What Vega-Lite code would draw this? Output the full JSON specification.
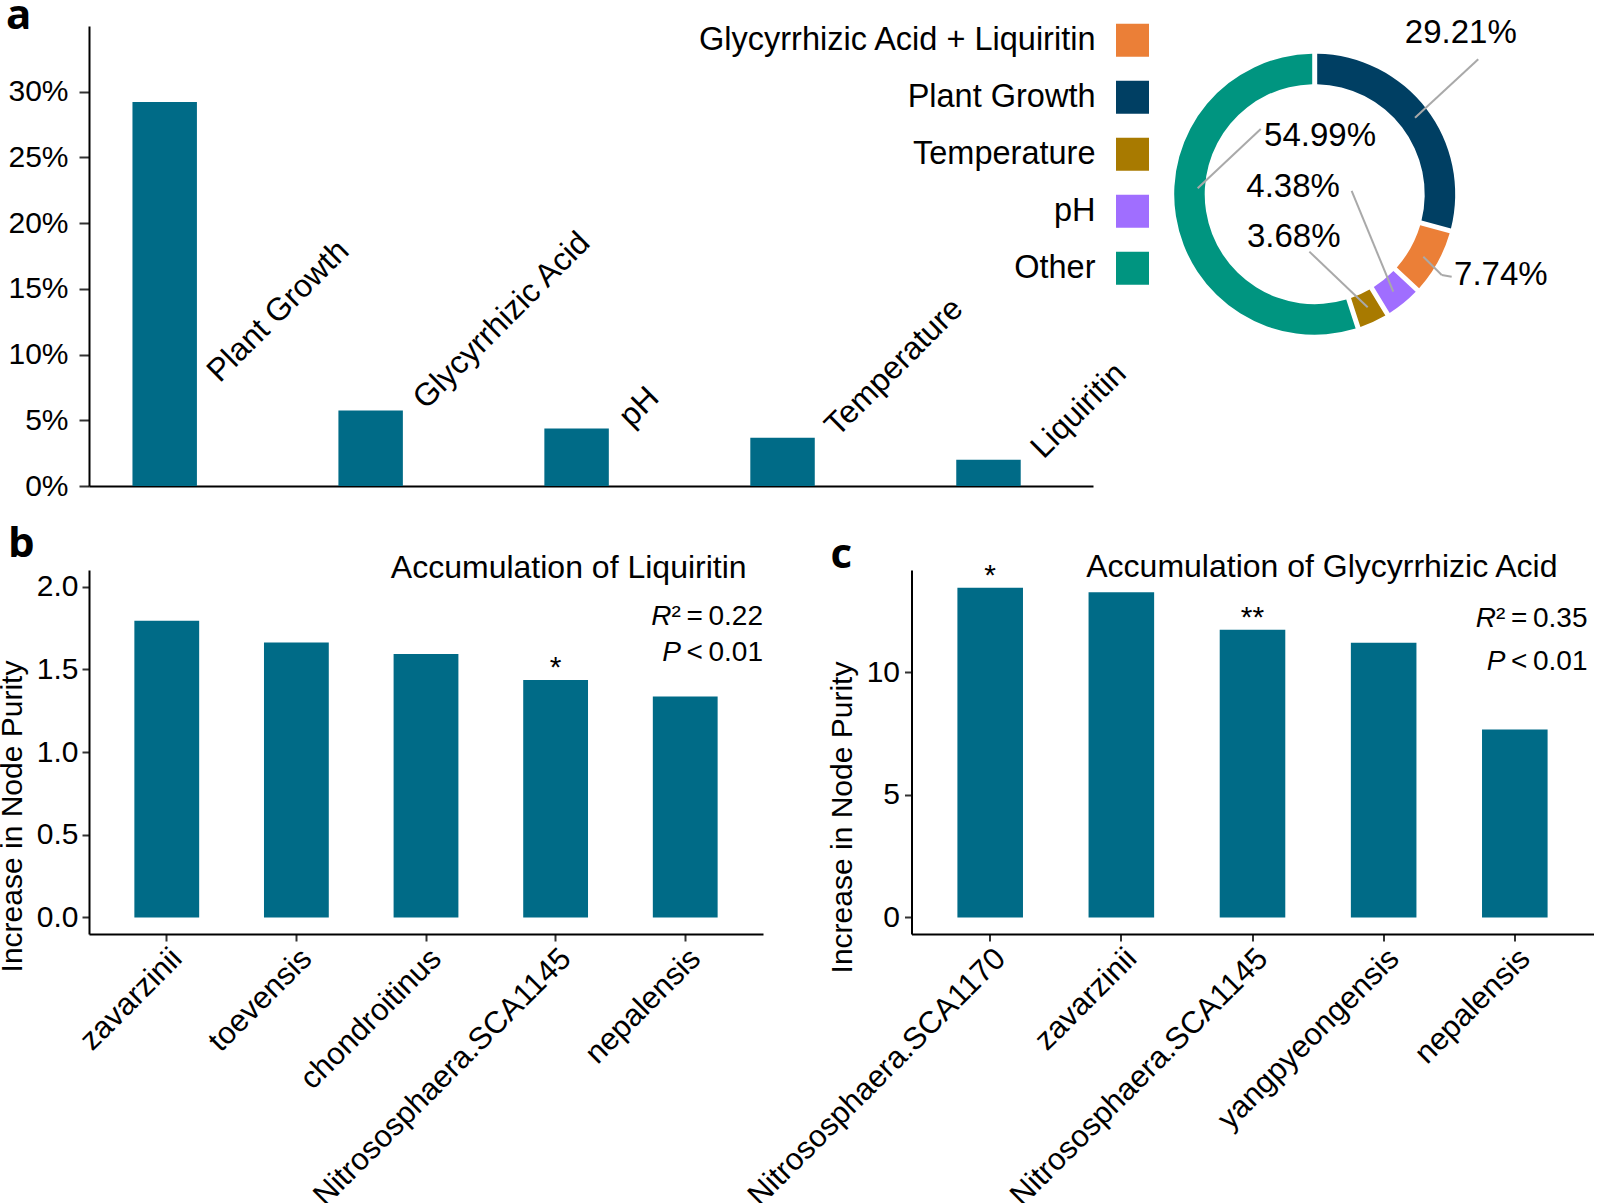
{
  "$schema": "https://vega.github.io/schema/vega-lite/v6.json",
  "autosize": {"type": "none"},
  "padding": {"left": 89, "top": 26, "right": 1511, "bottom": 1177},
  "background": "white",
  "config": {
    "font": "Liberation Sans",
    "view": {"stroke": null},
    "axis": {
      "domainColor": "black", "domainWidth": 2, "tickColor": "#333333", "tickWidth": 2,
      "labelFont": "Liberation Sans", "labelFontSize": 30, "labelColor": "black",
      "titleFont": "Liberation Sans", "titleFontSize": 30, "titleFontWeight": "normal", "titleColor": "black",
      "grid": false
    },
    "title": {"font": "Open Sans", "fontSize": 42, "fontWeight": "bold", "color": "black", "anchor": "start", "frame": "group", "baseline": "alphabetic"}
  },
  "bounds": "flush",
  "spacing": 84,
  "vconcat": [
    {
      "width": 1004,
      "height": 460,
      "title": {"text": "a", "dx": -83, "offset": -21},
      "resolve": {"scale": {"x": "independent", "y": "independent"}},
      "layer": [
        {
          "data": {"values": [
            {"factor": "Plant Growth", "value": 0.2921},
            {"factor": "Glycyrrhizic Acid", "value": 0.0574},
            {"factor": "pH", "value": 0.0438},
            {"factor": "Temperature", "value": 0.0368},
            {"factor": "Liquiritin", "value": 0.0200}
          ]},
          "encoding": {
            "x": {"field": "factor", "type": "nominal", "sort": null,
                  "scale": {"paddingInner": 0.687, "paddingOuter": 0.281, "align": 0.3755},
                  "axis": {"labels": false, "ticks": false, "title": null}}
          },
          "layer": [
            {
              "mark": {"type": "bar", "color": "#006B87"},
              "encoding": {
                "y": {"field": "value", "type": "quantitative",
                      "scale": {"domain": [0, 0.35], "nice": false, "zero": true},
                      "axis": {"title": null, "format": ".0%", "values": [0, 0.05, 0.1, 0.15, 0.2, 0.25, 0.3], "tickSize": 10, "labelPadding": 11}}
              }
            },
            {
              "transform": [{"calculate": "datum.value > 0.1 ? 0.078 : datum.value", "as": "label_y"}],
              "mark": {"type": "text", "angle": 315, "align": "left", "baseline": "alphabetic", "fontSize": 32, "xOffset": 55, "color": "black"},
              "encoding": {
                "y": {"field": "label_y", "type": "quantitative"},
                "text": {"field": "factor"}
              }
            }
          ]
        },
        {
          "layer": [
            {
              "data": {"values": [
                {"category": "Plant Growth", "pct": 29.21},
                {"category": "Glycyrrhizic Acid + Liquiritin", "pct": 7.74},
                {"category": "pH", "pct": 4.38},
                {"category": "Temperature", "pct": 3.68},
                {"category": "Other", "pct": 54.99}
              ]},
              "transform": [{"window": [{"op": "row_number", "as": "idx"}]}],
              "mark": {"type": "arc", "innerRadius": 110, "outerRadius": 140.5, "padAngle": 0.028},
              "encoding": {
                "x": {"datum": 0, "type": "quantitative", "scale": {"domain": [-8.724, -1.578], "nice": false, "zero": false}, "axis": null},
                "y": {"datum": 0, "type": "quantitative", "scale": {"domain": [-2.077, 1.197], "nice": false, "zero": false}, "axis": null},
                "theta": {"field": "pct", "type": "quantitative", "stack": true},
                "order": {"field": "idx", "type": "quantitative"},
                "color": {
                  "field": "category", "type": "nominal",
                  "scale": {
                    "domain": ["Glycyrrhizic Acid + Liquiritin", "Plant Growth", "Temperature", "pH", "Other"],
                    "range": ["#EB7F37", "#003F63", "#A87A00", "#A06EFF", "#009580"]
                  },
                  "legend": {
                    "orient": "none", "legendX": 1027, "legendY": -2.3, "title": null,
                    "symbolType": "square", "symbolSize": 1089, "symbolStrokeWidth": 0, "symbolOpacity": 1,
                    "labelFontSize": 32.5, "labelFont": "Liberation Sans", "labelColor": "black",
                    "labelAlign": "right", "labelOffset": -53.5, "labelLimit": 600,
                    "rowPadding": 24, "padding": 0
                  }
                }
              }
            },
            {
              "data": {"values": [
                {"x1": 1.164, "y1": 0.960, "x2": 0.714, "y2": 0.544},
                {"x1": -0.384, "y1": 0.464, "x2": -0.833, "y2": 0.042},
                {"x1": 0.263, "y1": 0.023, "x2": 0.559, "y2": -0.694},
                {"x1": -0.038, "y1": -0.409, "x2": 0.377, "y2": -0.805},
                {"x1": 0.773, "y1": -0.445, "x2": 0.904, "y2": -0.575},
                {"x1": 0.904, "y1": -0.575, "x2": 0.975, "y2": -0.587}
              ]},
              "mark": {"type": "rule", "color": "#A9A9A9", "strokeWidth": 2},
              "encoding": {
                "x": {"field": "x1", "type": "quantitative", "scale": {"domain": [-8.724, -1.578], "nice": false, "zero": false}, "axis": null},
                "y": {"field": "y1", "type": "quantitative", "scale": {"domain": [-2.077, 1.197], "nice": false, "zero": false}, "axis": null},
                "x2": {"field": "x2"},
                "y2": {"field": "y2"}
              }
            },
            {
              "data": {"values": [
                {"label": "29.21%", "lx": 1.040, "ly": 1.145},
                {"label": "54.99%", "lx": 0.038, "ly": 0.412},
                {"label": "4.38%", "lx": -0.154, "ly": 0.050},
                {"label": "3.68%", "lx": -0.149, "ly": -0.306},
                {"label": "7.74%", "lx": 1.325, "ly": -0.573}
              ]},
              "mark": {"type": "text", "fontSize": 33, "baseline": "middle", "align": "center", "color": "black"},
              "encoding": {
                "x": {"field": "lx", "type": "quantitative", "scale": {"domain": [-8.724, -1.578], "nice": false, "zero": false}, "axis": null},
                "y": {"field": "ly", "type": "quantitative", "scale": {"domain": [-2.077, 1.197], "nice": false, "zero": false}, "axis": null},
                "text": {"field": "label"}
              }
            }
          ]
        }
      ]
    },
    {
      "bounds": "flush",
      "spacing": 148.5,
      "hconcat": [
        {
          "width": 674,
          "height": 364,
          "title": {"text": "b", "dx": -81, "offset": -13.8},
          "layer": [
            {
              "data": {"values": [
                {"taxon": "zavarzinii", "value": 1.793},
                {"taxon": "toevensis", "value": 1.662},
                {"taxon": "chondroitinus", "value": 1.592},
                {"taxon": "Nitrososphaera.SCA1145", "value": 1.435, "sig": "*"},
                {"taxon": "nepalensis", "value": 1.335}
              ]},
              "layer": [
                {
                  "mark": {"type": "bar", "color": "#006B87"},
                  "encoding": {
                    "x": {"field": "taxon", "type": "nominal", "sort": null,
                          "scale": {"paddingInner": 0.5, "paddingOuter": 0.35},
                          "axis": {"title": null, "labelAngle": 315, "labelAlign": "right", "labelBaseline": "top", "labelFontSize": 31, "labelLimit": 600, "tickSize": 7, "labelPadding": 2}},
                    "y": {"field": "value", "type": "quantitative",
                          "scale": {"domain": [-0.1, 2.1], "nice": false, "zero": false},
                          "axis": {"title": "Increase in Node Purity", "values": [0, 0.5, 1, 1.5, 2], "format": ".1f", "tickSize": 7, "labelPadding": 4,
                                   "titleAngle": 270, "titleAlign": "center", "titleBaseline": "alphabetic", "titleX": -68, "titleY": 246}}
                  }
                },
                {
                  "transform": [{"filter": "datum.sig"}],
                  "mark": {"type": "text", "baseline": "alphabetic", "fontSize": 30, "dy": -3, "color": "black"},
                  "encoding": {
                    "x": {"field": "taxon", "type": "nominal", "sort": null},
                    "y": {"field": "value", "type": "quantitative"},
                    "text": {"field": "sig"}
                  }
                }
              ]
            },
            {
              "data": {"values": [{"t": "Accumulation of Liquiritin"}]},
              "mark": {"type": "text", "x": "width", "xOffset": -16.4, "align": "right", "baseline": "alphabetic", "fontSize": 32, "color": "black"},
              "encoding": {"y": {"datum": 2.049, "type": "quantitative"}, "text": {"field": "t"}}
            },
            {
              "data": {"values": [{"t": "R"}]},
              "mark": {"type": "text", "x": "width", "xOffset": -91.4, "align": "right", "baseline": "alphabetic", "fontSize": 28, "fontStyle": "italic", "color": "black"},
              "encoding": {"y": {"datum": 1.770, "type": "quantitative"}, "text": {"field": "t"}}
            },
            {
              "data": {"values": [{"t": "\u00b2\u2009=\u20090.22"}]},
              "mark": {"type": "text", "x": "width", "align": "right", "baseline": "alphabetic", "fontSize": 28, "color": "black"},
              "encoding": {"y": {"datum": 1.770, "type": "quantitative"}, "text": {"field": "t"}}
            },
            {
              "data": {"values": [{"t": "P"}]},
              "mark": {"type": "text", "x": "width", "xOffset": -82, "align": "right", "baseline": "alphabetic", "fontSize": 28, "fontStyle": "italic", "color": "black"},
              "encoding": {"y": {"datum": 1.548, "type": "quantitative"}, "text": {"field": "t"}}
            },
            {
              "data": {"values": [{"t": "\u2009<\u20090.01"}]},
              "mark": {"type": "text", "x": "width", "align": "right", "baseline": "alphabetic", "fontSize": 28, "color": "black"},
              "encoding": {"y": {"datum": 1.548, "type": "quantitative"}, "text": {"field": "t"}}
            }
          ]
        },
        {
          "width": 682,
          "height": 364,
          "title": {"text": "c", "dx": -81, "offset": -25.7},
          "layer": [
            {
              "data": {"values": [
                {"taxon": "Nitrososphaera.SCA1170", "value": 13.45, "sig": "*"},
                {"taxon": "zavarzinii", "value": 13.27},
                {"taxon": "Nitrososphaera.SCA1145", "value": 11.74, "sig": "**"},
                {"taxon": "yangpyeongensis", "value": 11.21},
                {"taxon": "nepalensis", "value": 7.67}
              ]},
              "layer": [
                {
                  "mark": {"type": "bar", "color": "#006B87"},
                  "encoding": {
                    "x": {"field": "taxon", "type": "nominal", "sort": null,
                          "scale": {"paddingInner": 0.5, "paddingOuter": 0.35},
                          "axis": {"title": null, "labelAngle": 315, "labelAlign": "right", "labelBaseline": "top", "labelFontSize": 31, "labelLimit": 600, "tickSize": 7, "labelPadding": 2}},
                    "y": {"field": "value", "type": "quantitative",
                          "scale": {"domain": [-0.675, 14.175], "nice": false, "zero": false},
                          "axis": {"title": "Increase in Node Purity", "values": [0, 5, 10], "format": "d", "tickSize": 7, "labelPadding": 5,
                                   "titleAngle": 270, "titleAlign": "center", "titleBaseline": "alphabetic", "titleX": -60, "titleY": 247}}
                  }
                },
                {
                  "transform": [{"filter": "datum.sig"}],
                  "mark": {"type": "text", "baseline": "alphabetic", "fontSize": 30, "dy": -3, "color": "black"},
                  "encoding": {
                    "x": {"field": "taxon", "type": "nominal", "sort": null},
                    "y": {"field": "value", "type": "quantitative"},
                    "text": {"field": "sig"}
                  }
                }
              ]
            },
            {
              "data": {"values": [{"t": "Accumulation of Glycyrrhizic Acid"}]},
              "mark": {"type": "text", "x": "width", "xOffset": -36, "align": "right", "baseline": "alphabetic", "fontSize": 32, "color": "black"},
              "encoding": {"y": {"datum": 13.89, "type": "quantitative"}, "text": {"field": "t"}}
            },
            {
              "data": {"values": [{"t": "R"}]},
              "mark": {"type": "text", "x": "width", "xOffset": -97.4, "align": "right", "baseline": "alphabetic", "fontSize": 28, "fontStyle": "italic", "color": "black"},
              "encoding": {"y": {"datum": 11.85, "type": "quantitative"}, "text": {"field": "t"}}
            },
            {
              "data": {"values": [{"t": "\u00b2\u2009=\u20090.35"}]},
              "mark": {"type": "text", "x": "width", "xOffset": -6, "align": "right", "baseline": "alphabetic", "fontSize": 28, "color": "black"},
              "encoding": {"y": {"datum": 11.85, "type": "quantitative"}, "text": {"field": "t"}}
            },
            {
              "data": {"values": [{"t": "P"}]},
              "mark": {"type": "text", "x": "width", "xOffset": -88, "align": "right", "baseline": "alphabetic", "fontSize": 28, "fontStyle": "italic", "color": "black"},
              "encoding": {"y": {"datum": 10.09, "type": "quantitative"}, "text": {"field": "t"}}
            },
            {
              "data": {"values": [{"t": "\u2009<\u20090.01"}]},
              "mark": {"type": "text", "x": "width", "xOffset": -6, "align": "right", "baseline": "alphabetic", "fontSize": 28, "color": "black"},
              "encoding": {"y": {"datum": 10.09, "type": "quantitative"}, "text": {"field": "t"}}
            }
          ]
        }
      ]
    }
  ]
}
